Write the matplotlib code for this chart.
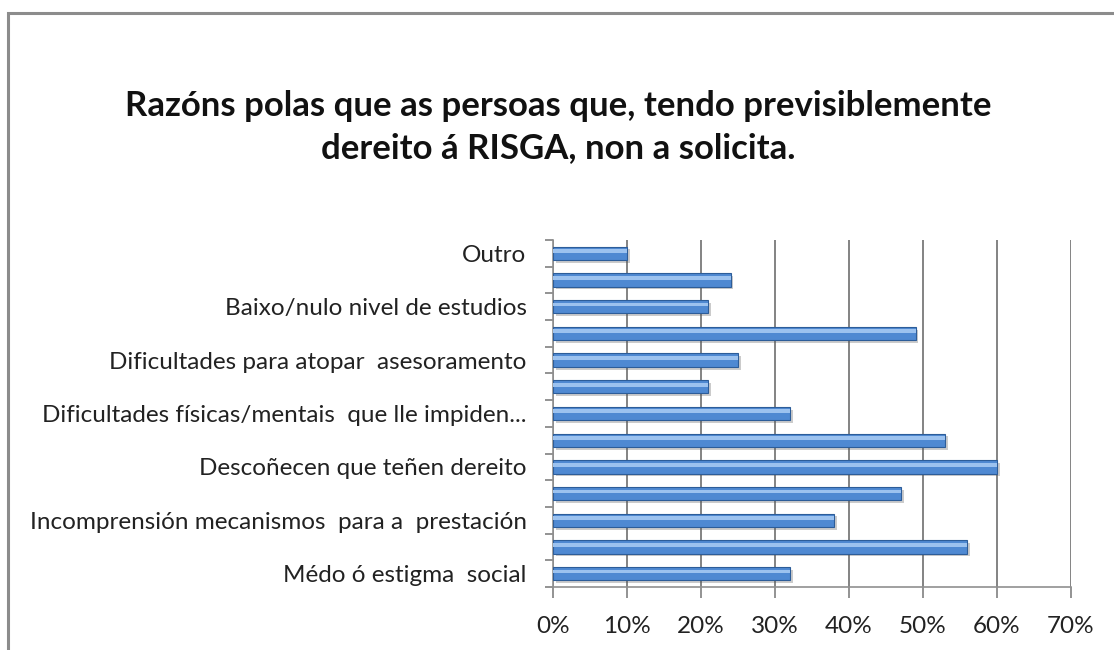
import numpy as np
import matplotlib
matplotlib.use("Agg")
import matplotlib.pyplot as plt
from matplotlib.patches import Rectangle
import matplotlib.patheffects as pe

plt.rcParams['font.family'] = ['Lato', 'DejaVu Sans']

# categorias de abaixo a arriba (as que non levan etiqueta no orixinal quedan baleiras)
categorias = [
    "Médo ó estigma  social",
    "",
    "Incomprensión mecanismos  para a  prestación",
    "",
    "Descoñecen que teñen dereito",
    "",
    "Dificultades físicas/mentais  que lle impiden...",
    "",
    "Dificultades para atopar  asesoramento",
    "",
    "Baixo/nulo nivel de estudios",
    "",
    "Outro",
]
valores = [32, 56, 38, 47, 60, 53, 32, 21, 25, 49, 21, 24, 10]
xticks = [0, 10, 20, 30, 40, 50, 60, 70]

titulo = "Razóns polas que as persoas que, tendo previsiblemente\ndereito á RISGA, non a solicita."

fig = plt.figure(figsize=(11.14, 6.5), dpi=100)
fig.patch.set_facecolor("white")

# marco gris do grafico
marco = Rectangle((8 / 1114, -0.05), 1.2, 1.05 - 13 / 650, transform=fig.transFigure,
                  fill=False, edgecolor="#8c8c8c", linewidth=2.2)
fig.patches.append(marco)

ax = fig.add_axes([553 / 1114, 63 / 650, (1071 - 553) / 1114, (587 - 240) / 650])

y = np.arange(len(categorias))
sombra = [pe.SimplePatchShadow(offset=(2, -2), alpha=0.3, shadow_rgbFace="#555555"), pe.Normal()]
barras = ax.barh(y, valores, height=0.5, color="#4f89d2", edgecolor="#2d5d99", linewidth=0.8,
                 zorder=3)
for b in barras:
    b.set_path_effects(sombra)
# brillo na parte alta da barra
ax.barh(y + 0.08, valores, height=0.14, color="#9cc2ef", linewidth=0, zorder=4)

ax.set_xlim(0, 70)
ax.set_ylim(-0.5, len(categorias) - 0.5)
ax.set_xticks(xticks)
ax.set_xticklabels([f"{v}%" for v in xticks], fontsize=17.5, color="#222222")
ax.set_yticks(y)
ax.set_yticklabels(categorias, fontsize=17.5, color="#222222")
ax.set_yticks(np.arange(-0.5, len(categorias), 1.0), minor=True)
ax.tick_params(axis="y", which="major", length=0, pad=19)
ax.tick_params(axis="y", which="minor", length=6, color="#808080", width=1.2)
ax.tick_params(axis="x", length=8, color="#808080", width=1.2, pad=13)

ax.grid(axis="x", color="#6e6e6e", linewidth=1.2, zorder=0)
for lado in ["top", "right"]:
    ax.spines[lado].set_visible(False)
for lado in ["left", "bottom"]:
    ax.spines[lado].set_color("#909090")
    ax.spines[lado].set_linewidth(1.2)

fig.text(558 / 1114, 1 - 127 / 650, titulo, ha="center", va="center", fontsize=25,
         fontweight="bold", color="#111111", linespacing=1.35)

fig.savefig("out.png", dpi=100, facecolor="white")
